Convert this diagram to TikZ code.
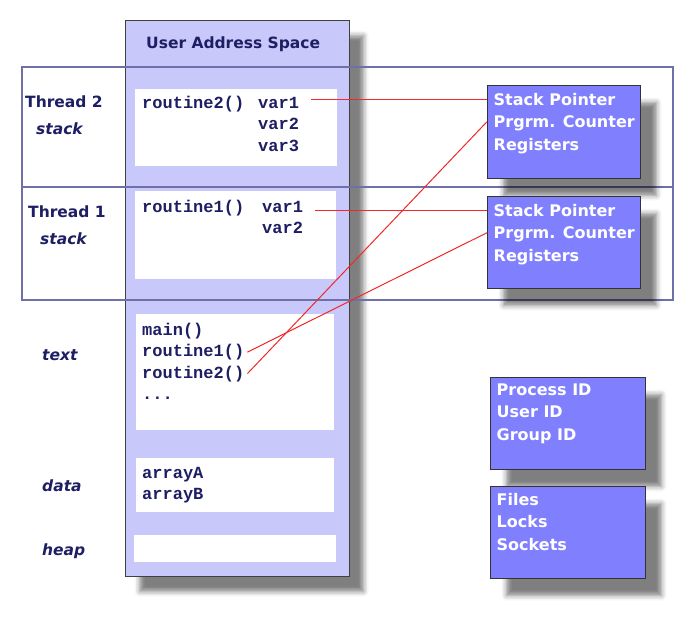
\documentclass[tikz,border=0pt]{standalone}
\usepackage{fontspec}
\setmainfont{DejaVu Sans}
\setmonofont{Liberation Mono}
\usepackage{xcolor}
\usetikzlibrary{shadows.blur,calc}

\definecolor{navyink}{RGB}{30,30,100}
\definecolor{lavender}{RGB}{200,200,250}
\definecolor{slateline}{RGB}{112,112,168}
\definecolor{regblue}{RGB}{128,128,255}
\definecolor{pointred}{RGB}{240,40,40}

\tikzset{
  addrspace/.style={draw=black!75, line width=1.2pt, fill=lavender, anchor=north west, inner sep=0pt,
    blur shadow={shadow xshift=14pt, shadow yshift=-15pt, shadow blur radius=5pt, shadow opacity=50}},
  slot/.style={fill=white, anchor=north west, inner sep=0pt},
  code/.style={anchor=base west, inner sep=0pt, text=navyink, font=\fontsize{17}{21}\selectfont\ttfamily\bfseries},
  region/.style={anchor=base west, inner sep=0pt, text=navyink, font=\fontsize{15.5}{19}\selectfont\bfseries},
  regs/.style={draw=black!80, line width=1pt, fill=regblue, anchor=north west, inner sep=0pt,
    blur shadow={shadow xshift=16pt, shadow yshift=-17pt, shadow blur radius=5pt, shadow opacity=50}},
  regline/.style={anchor=base west, inner sep=0pt, text height=12pt, text depth=0pt, text=white, font=\fontsize{16}{20}\selectfont\bfseries},
  frameline/.style={draw=slateline, line width=1.1pt},
  link/.style={draw=pointred, line width=1pt}
}

\begin{document}
\begin{tikzpicture}[x=1pt, y=-1pt]
    \useasboundingbox (0,0) rectangle (690,625);

    % address space column
    \node[addrspace, minimum width=224pt, minimum height=556pt] (uas) at (125,20) {};
    \node[region] (uastitle) at (146,48) {User Address Space};

    % white slots in the column
    \node[slot, minimum width=202pt, minimum height=77pt] (t2slot) at (135,89) {};
    \node[slot, minimum width=201pt, minimum height=88pt] (t1slot) at (135,191) {};
    \node[slot, minimum width=198pt, minimum height=116pt] (txtslot) at (136,314) {};
    \node[slot, minimum width=198pt, minimum height=54pt] (dataslot) at (136,458) {};
    \node[slot, minimum width=202pt, minimum height=27pt] (heapslot) at (134,535) {};

    % region labels
    \node[region] (t2name) at (25,107) {Thread 2};
    \node[region] (t2kind) at (36,134) {\itshape stack};
    \node[region] (t1name) at (28,217) {Thread 1};
    \node[region] (t1kind) at (40,244) {\itshape stack};
    \node[region] (txtname) at (42,360) {\itshape text};
    \node[region] (dataname) at (42,491) {\itshape data};
    \node[region] (heapname) at (42,555) {\itshape heap};

    % stack contents
    \node[code] (t2rout) at (142,108) {routine2()};
    \node[code] (t2var1) at (258,108) {var1};
    \node[code] (t2var2) at (258,129.5) {var2};
    \node[code] (t2var3) at (258,151) {var3};
    \node[code] (t1rout) at (142,212) {routine1()};
    \node[code] (t1var1) at (262,212) {var1};
    \node[code] (t1var2) at (262,233.5) {var2};

    % text and data contents
    \node[code] (txt1) at (142,335) {main()};
    \node[code] (txt2) at (142,356.5) {routine1()};
    \node[code] (txt3) at (142,378) {routine2()};
    \node[code] (txt4) at (142,399.5) {...};
    \node[code] (arrA) at (142,478) {arrayA};
    \node[code] (arrB) at (142,499.5) {arrayB};

    % thread frame
    \draw[frameline] (22,67) rectangle (673,300);
    \draw[frameline] (22,187) -- (673,187);

    % per-thread and per-process boxes
    \node[regs, minimum width=153pt, minimum height=93pt] (sp2box) at (487,85) {};
    \node[regs, minimum width=153pt, minimum height=92pt] (sp1box) at (487,196) {};
    \node[regs, minimum width=155pt, minimum height=92pt] (idbox) at (490,377) {};
    \node[regs, minimum width=155pt, minimum height=92pt] (resbox) at (490,486) {};
    \foreach \l [count=\i] in {Stack Pointer, Prgrm. Counter, Registers}{
        \node[regline] (sp2l\i) at ([shift={(6.5,{20+22.7*(\i-1)})}]sp2box.north west) {\l};
        \node[regline] (sp1l\i) at ([shift={(6.5,{20+22.7*(\i-1)})}]sp1box.north west) {\l};
    }
    \foreach \l [count=\i] in {Process ID, User ID, Group ID}
        \node[regline] (idl\i) at ([shift={(6.5,{18+22.7*(\i-1)})}]idbox.north west) {\l};
    \foreach \l [count=\i] in {Files, Locks, Sockets}
        \node[regline] (resl\i) at ([shift={(6.5,{19+22.7*(\i-1)})}]resbox.north west) {\l};

    % pointers
    \draw[link] ($(t2var1.east |- sp2l1.west)+(12,0)$) -- (sp2l1 -| sp2box.west);
    \draw[link] ($(t1var1.east |- sp1l1.west)+(12,0)$) -- (sp1l1 -| sp1box.west);
    \draw[link] ([xshift=3pt]txt3.east) -- (sp2l2 -| sp2box.west);
    \draw[link] ([xshift=3pt]txt2.east) -- (sp1l2 -| sp1box.west);
\end{tikzpicture}
\end{document}
